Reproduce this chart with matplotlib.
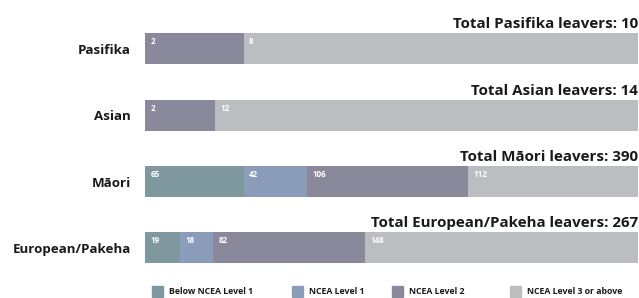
import matplotlib
matplotlib.use("Agg")
import matplotlib.pyplot as plt
from matplotlib.patches import Rectangle

groups = ["Pasifika", "Asian", "Māori", "European/Pakeha"]
totals_labels = ["Total Pasifika leavers: 10", "Total Asian leavers: 14",
                 "Total Māori leavers: 390", "Total European/Pakeha leavers: 267"]
series_names = ["Below NCEA Level 1", "NCEA Level 1", "NCEA Level 2", "NCEA Level 3 or above"]
below_l1 = [0, 0, 65, 19]
level1 = [0, 0, 42, 18]
level2 = [2, 2, 106, 82]
level3 = [8, 12, 112, 148]
colors = ["#7f98a0", "#8b9bba", "#8a899b", "#bcbdc1"]

plt.rcParams['font.family'] = ['Open Sans', 'DejaVu Sans']

W, H = 639, 298
fig = plt.figure(figsize=(W / 100, H / 100), dpi=100)
ax = fig.add_axes([145 / W, 10.4 / H, 493 / W, 285.1 / H])

series = [below_l1, level1, level2, level3]
totals = [sum(s[i] for s in series) for i in range(len(groups))]
ypos = list(range(len(groups)))
bh = 0.47
lefts = [0.0] * len(groups)
for s, c in zip(series, colors):
    widths = [v / t for v, t in zip(s, totals)]
    ax.barh(ypos, widths, left=lefts, height=bh, color=c, edgecolor='none')
    for i, (v, w) in enumerate(zip(s, widths)):
        if v > 0:
            ax.text(lefts[i] + 0.011, ypos[i] - bh / 2 + 0.06, str(v), color='white',
                    fontsize=5.8, fontweight='bold', ha='left', va='top')
    lefts = [l + w for l, w in zip(lefts, widths)]

for i, lab in enumerate(totals_labels):
    ax.text(1.0, ypos[i] - bh / 2 - 0.03, lab, ha='right', va='bottom',
            fontsize=10.9, fontweight='bold', color='#1a1a1a')

ax.set_xlim(0, 1)
ax.set_ylim(3.6, -0.7)
ax.set_yticks(ypos)
ax.set_yticklabels(groups, fontsize=9.6, fontweight='bold', color='#1a1a1a')
ax.tick_params(axis='y', length=0, pad=10)
ax.set_xticks([])
for sp in ax.spines.values():
    sp.set_visible(False)

# legend
leg_x = [152, 292, 392, 510]
for x, c, name in zip(leg_x, colors, series_names):
    fig.add_artist(Rectangle((x / W, (H - 297) / H), 11 / W, 11 / H,
                             transform=fig.transFigure, color=c))
    fig.text((x + 17) / W, (H - 291.5) / H, name, fontsize=6.3, fontweight='bold',
             va='center', ha='left', color='#1a1a1a')

fig.savefig("out.png", dpi=100)
